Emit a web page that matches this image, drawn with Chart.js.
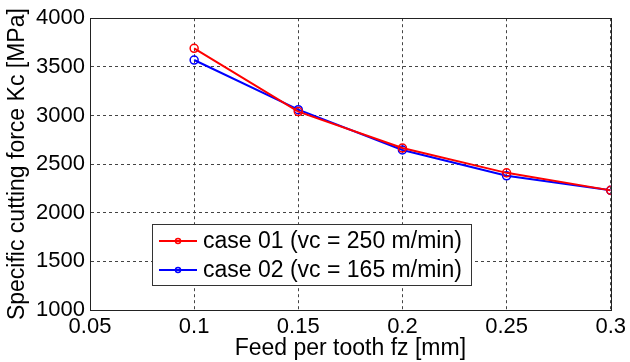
<!DOCTYPE html>
<html>
<head>
<meta charset="utf-8">
<script src="https://cdn.jsdelivr.net/npm/chart.js@4.4.0/dist/chart.umd.min.js"></script>
<style>
  html, body { margin: 0; padding: 0; background: #fff; }
  #wrap { width: 630px; height: 362px; }
</style>
</head>
<body>
<div id="wrap"><canvas id="kcChart"></canvas></div>
<script>
/* DATA */

const feed = [0.1, 0.15, 0.2, 0.25, 0.3];

const case01 = [3690, 3040, 2665, 2410, 2230];
const case02 = [3570, 3060, 2645, 2380, 2230];

const xTicks = [0.05, 0.1, 0.15, 0.2, 0.25, 0.3];
const yTicks = [1000, 1500, 2000, 2500, 3000, 3500, 4000];

const labelCase01 = 'case 01 (vc = 250 m/min)';
const labelCase02 = 'case 02 (vc = 165 m/min)';

const FONT = '"Liberation Sans", Arial, sans-serif';

/* FRAME (box around plot) */

const framePlugin = {
    id: 'frame',
    afterDraw(chart) {
        const a = chart.chartArea;
        const ctx = chart.ctx;
        ctx.save();
        ctx.strokeStyle = '#222';
        ctx.lineWidth = 1;
        ctx.strokeRect(Math.round(a.left) + 0.5, Math.round(a.top) + 0.5,
            Math.round(a.right - a.left), Math.round(a.bottom - a.top));
        ctx.restore();
    }
};

/* LEGEND inside plot */

const boxLegend = {
    id: 'boxLegend',
    afterDatasetsDraw(chart) {
        const ctx = chart.ctx;
        const x0 = 152, y0 = 224, w = 319, h = 61;
        ctx.save();
        ctx.fillStyle = '#fff';
        ctx.fillRect(x0, y0, w, h);
        ctx.strokeStyle = '#333';
        ctx.lineWidth = 1;
        ctx.strokeRect(x0 + 0.5, y0 + 0.5, w, h);
        ctx.font = '23px ' + FONT;
        ctx.textBaseline = 'middle';
        chart.data.datasets.forEach((ds, i) => {
            const y = y0 + 17 + i * 29;
            ctx.strokeStyle = ds.borderColor;
            ctx.lineWidth = 2;
            ctx.beginPath();
            ctx.moveTo(159, y);
            ctx.lineTo(197, y);
            ctx.stroke();
            ctx.lineWidth = 1.5;
            ctx.beginPath();
            ctx.arc(178, y, 2.5, 0, Math.PI * 2);
            ctx.stroke();
            ctx.fillStyle = '#000';
            ctx.fillText(ds.label, 203, y + 1);
        });
        ctx.restore();
    }
};

const kcChart = new Chart(
document.getElementById('kcChart'), {

    type: 'line',

    data: {
        datasets: [{
            label: labelCase01,
            data: feed.map((f, i) => ({ x: f, y: case01[i] })),
            borderColor: '#ff0000',
            backgroundColor: 'rgba(0,0,0,0)',
            borderWidth: 2,
            pointRadius: 4,
            pointBorderWidth: 1.5,
            pointStyle: 'circle',
            tension: 0
        }, {
            label: labelCase02,
            data: feed.map((f, i) => ({ x: f, y: case02[i] })),
            borderColor: '#0000ff',
            backgroundColor: 'rgba(0,0,0,0)',
            borderWidth: 2,
            pointRadius: 4,
            pointBorderWidth: 1.5,
            pointStyle: 'circle',
            tension: 0
        }]
    },

    options: {
        responsive: true,
        maintainAspectRatio: false,
        animation: false,
        layout: { padding: { top: 17, right: 17, left: 0, bottom: 0 } },
        plugins: {
            legend: { display: false },
            tooltip: { enabled: false }
        },
        scales: {
            x: {
                type: 'linear',
                min: 0.05,
                max: 0.3,
                afterBuildTicks: (s) => { s.ticks = xTicks.map(v => ({ value: v })); },
                afterFit: (s) => { s.height = 52; },
                grid: { color: '#444', lineWidth: 1, drawTicks: false },
                border: { display: true, color: '#222', dash: [3, 3] },
                ticks: {
                    color: '#000',
                    padding: 4,
                    maxRotation: 0,
                    autoSkip: false,
                    font: { family: FONT, size: 22 },
                    callback: (v) => String(+v.toFixed(2))
                },
                title: {
                    display: true,
                    text: 'Feed per tooth fz [mm]',
                    color: '#000',
                    padding: { top: 2, bottom: 0 },
                    font: { family: FONT, size: 23 }
                }
            },
            y: {
                type: 'linear',
                min: 1000,
                max: 4000,
                afterBuildTicks: (s) => { s.ticks = yTicks.map(v => ({ value: v })); },
                afterFit: (s) => { s.width = 90; },
                grid: { color: '#444', lineWidth: 1, drawTicks: false },
                border: { display: true, color: '#222', dash: [3, 3] },
                ticks: {
                    color: '#000',
                    padding: 5,
                    autoSkip: false,
                    font: { family: FONT, size: 22 },
                    callback: (v) => String(v)
                },
                title: {
                    display: true,
                    text: 'Specific cutting force Kc [MPa]',
                    color: '#000',
                    padding: { top: 4, bottom: 0 },
                    font: { family: FONT, size: 23 }
                }
            }
        }
    },

    plugins: [framePlugin, boxLegend]

});
</script>
</body>
</html>
